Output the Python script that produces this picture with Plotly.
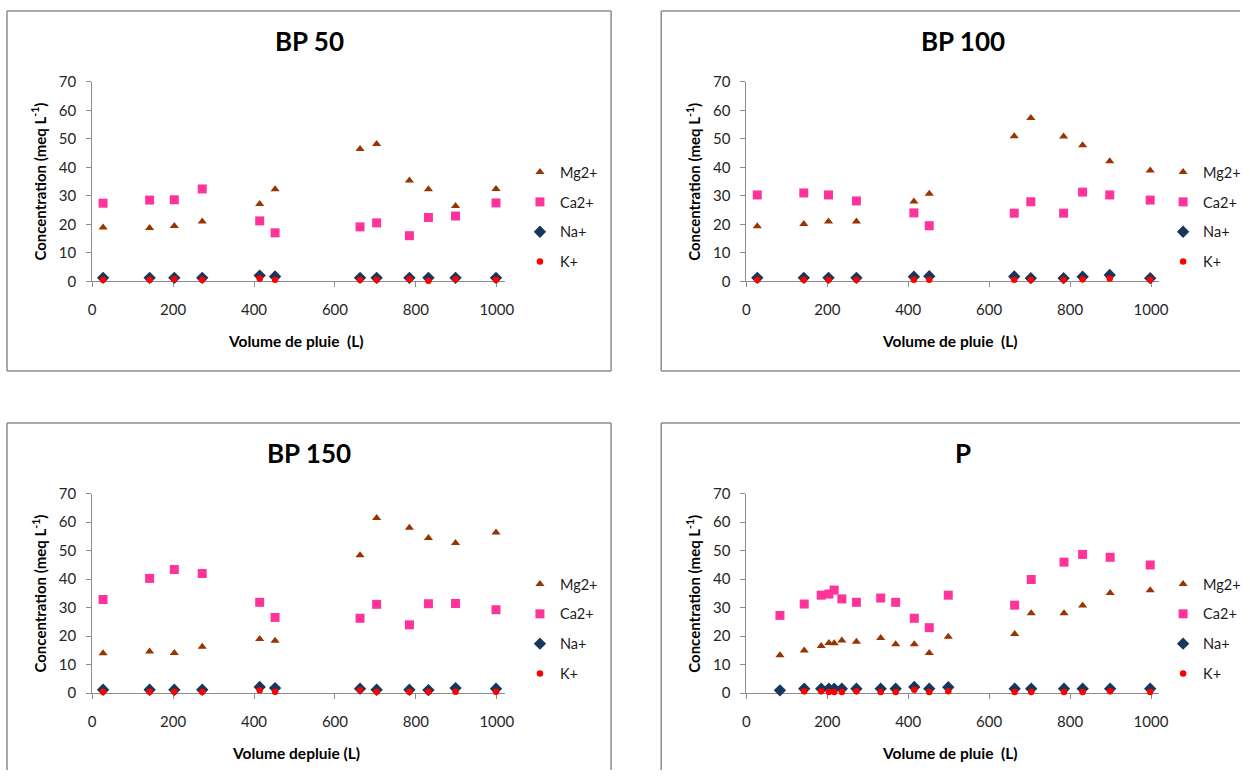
import plotly.graph_objects as go

# ---------------- data ----------------
X_BP = [27, 142, 203, 272, 414, 452, 662, 703, 784, 831, 898, 998]

BP50_MG = [18.9, 18.7, 19.4, 21.0, 27.1, 32.3, 46.4, 48.2, 35.4, 32.3, 26.4, 32.4]
BP50_CA = [27.4, 28.5, 28.6, 32.4, 21.2, 17.0, 19.1, 20.5, 16.0, 22.4, 22.9, 27.5]
BP50_NA = [1.2, 1.2, 1.2, 1.2, 2.0, 1.7, 1.2, 1.2, 1.2, 1.2, 1.2, 1.2]
BP50_K = [0.5, 0.5, 0.8, 0.5, 1.0, 0.5, 0.5, 0.5, 0.8, 0.2, 0.8, 0.5]

BP100_MG = [19.3, 20.1, 21.0, 21.0, 28.0, 30.7, 50.9, 57.3, 50.8, 47.7, 42.1, 38.9]
BP100_CA = [30.3, 31.0, 30.3, 28.2, 24.0, 19.5, 23.9, 27.9, 23.9, 31.3, 30.3, 28.5]
BP100_NA = [1.2, 1.2, 1.2, 1.2, 1.6, 1.8, 1.7, 1.1, 1.1, 1.6, 2.2, 1.1]
BP100_K = [0.5, 0.5, 0.5, 0.5, 0.5, 0.5, 0.5, 0.5, 0.5, 0.7, 1.0, 0.5]

BP150_MG = [14.0, 14.6, 14.1, 16.3, 19.0, 18.4, 48.4, 61.5, 58.1, 54.5, 52.7, 56.4]
BP150_CA = [32.9, 40.3, 43.4, 42.0, 31.9, 26.6, 26.3, 31.2, 24.0, 31.4, 31.5, 29.3]
BP150_NA = [1.2, 1.2, 1.2, 1.2, 2.2, 1.8, 1.6, 1.2, 1.2, 1.1, 1.8, 1.6]
BP150_K = [0.5, 0.5, 0.5, 0.5, 1.0, 0.5, 1.0, 0.5, 0.5, 0.5, 0.5, 0.5]

X_P = [83, 143, 185, 204, 217, 236, 272, 332, 369, 415, 452, 499, 663, 704, 785, 831, 899, 998]
P_MG = [13.3, 15.0, 16.6, 17.6, 17.5, 18.5, 18.1, 19.4, 17.2, 17.2, 14.1, 19.8, 20.8, 28.1, 28.1, 30.8, 35.2, 36.1]
P_CA = [27.3, 31.3, 34.4, 34.8, 36.2, 33.1, 31.9, 33.4, 31.9, 26.3, 23.0, 34.4, 30.9, 39.9, 46.0, 48.7, 47.7, 45.0]
P_NA = [1.0, 1.6, 1.6, 1.6, 1.6, 1.6, 1.6, 1.6, 1.6, 2.2, 1.6, 2.1, 1.6, 1.6, 1.6, 1.6, 1.6, 1.6]
P_K = [None, 0.7, 0.7, 0.4, 0.4, 0.4, 0.7, 0.4, 0.4, 1.2, 0.4, 0.7, 0.4, 0.4, 0.4, 0.4, 0.7, 0.4]

TITLES = ["BP 50", "BP 100", "BP 150", "P"]
XTITLES = ["Volume de pluie\u00a0 (L)", "Volume de pluie\u00a0 (L)",
           "Volume depluie (L)", "Volume de pluie\u00a0 (L)"]
YTITLE = "Concentration (meq L<sup>-1</sup>)"
SERIES_NAMES = ["Mg2+", "Ca2+", "Na+", "K+"]
X_TICKS = [0, 200, 400, 600, 800, 1000]

PANELS = [
    (X_BP, [BP50_MG, BP50_CA, BP50_NA, BP50_K]),
    (X_BP, [BP100_MG, BP100_CA, BP100_NA, BP100_K]),
    (X_BP, [BP150_MG, BP150_CA, BP150_NA, BP150_K]),
    (X_P, [P_MG, P_CA, P_NA, P_K]),
]

# ---------------- layout helpers ----------------
W, H = 1250, 778
FONT = "Lato, 'Open Sans', sans-serif"
STYLES = [
    dict(symbol="triangle-up", color="#993300", size=8),
    dict(symbol="square", color="#FF3399", size=9),
    dict(symbol="diamond", color="#17375E", size=9.5),
    dict(symbol="circle", color="#FF0000", size=6.5),
]

# panel geometry in target-picture pixels
# (box x0, x1, y0, y1, plot x0, plot x1, plot ytop, plot ybottom, legend x)
GEOM = [
    (8, 611, 9, 370, 93, 505, 80, 280, 520),
    (661, 1264, 9, 370, 746, 1158, 80, 280, 1162),
    (8, 611, 422, 790, 93, 505, 493, 693, 520),
    (661, 1264, 422, 790, 746, 1158, 493, 693, 1162),
]

# the photographed page is shown slightly reduced inside a thin white frame;
# map target-picture pixels to page pixels
SX, OX = 0.987, 5.0
SY, OY = 0.9794, 8.0


def fx(p):
    return min(max(((p - OX) / SX) / W, 0.0), 1.0)


def fy(p):
    return min(max(1 - ((p - OY) / SY) / H, 0.0), 1.0)


fig = go.Figure()
shapes = []
annotations = []
BOX_LINE = dict(color="#8C8C8C", width=1.5)


def seg(xa, ya, xb, yb):
    shapes.append(dict(type="line", xref="paper", yref="paper",
                       x0=fx(xa), y0=fy(ya), x1=fx(xb), y1=fy(yb),
                       line=BOX_LINE, layer="below"))


for i, ((xs, series), g) in enumerate(zip(PANELS, GEOM)):
    bx0, bx1, by0, by1, px0, px1, pyt, pyb, lx = g
    ax = "" if i == 0 else str(i + 1)
    leg = "legend" if i == 0 else f"legend{i + 1}"
    for name, ys, st in zip(SERIES_NAMES, series, STYLES):
        fig.add_trace(go.Scatter(
            x=xs, y=ys, mode="markers", name=name,
            marker=dict(symbol=st["symbol"], color=st["color"], size=st["size"],
                        line=dict(width=0)),
            xaxis="x" + ax, yaxis="y" + ax,
            legend=leg, legendgroup=f"{leg}-{name}",
            cliponaxis=False,
        ))

    common = dict(showgrid=False, zeroline=False, showline=True,
                  linecolor="#8C8C8C", linewidth=1, ticks="outside",
                  ticklen=5, tickcolor="#8C8C8C",
                  tickfont=dict(family=FONT, size=15, color="#262626"),
                  layer="below traces")
    fig.update_layout(**{
        "xaxis" + ax: dict(common, domain=[fx(px0), fx(px1)], range=[0, 1020],
                           tickvals=X_TICKS, anchor="y" + ax,
                           ticklabelstandoff=10),
        "yaxis" + ax: dict(common, domain=[fy(pyb), fy(pyt)], range=[0, 70],
                           dtick=10, anchor="x" + ax, ticklabelstandoff=7),
        leg: dict(x=fx(lx), y=fy(pyt + 74.5), xanchor="left",
                  yanchor="top", tracegroupgap=8, bgcolor="rgba(0,0,0,0)",
                  font=dict(family=FONT, size=14.5, color="#1a1a1a"),
                  itemwidth=30),
    })

    # panel border, clipped to the page
    seg(bx0, by0, bx1, by0)      # top
    seg(bx0, by0, bx0, by1)      # left
    if bx1 < W:
        seg(bx1, by0, bx1, by1)  # right
    if by1 < H:
        seg(bx0, by1, bx1, by1)  # bottom

    cx = (bx0 + bx1) / 2
    annotations.append(dict(text=f"<b>{TITLES[i]}</b>", xref="paper", yref="paper",
                            x=fx(cx), y=fy(by0 + 30), showarrow=False,
                            xanchor="center", yanchor="middle",
                            font=dict(family=FONT, size=26, color="#000")))
    annotations.append(dict(text=f"<b>{XTITLES[i]}</b>", xref="paper", yref="paper",
                            x=fx(px0 + 203), y=fy(pyb + 60), showarrow=False,
                            xanchor="center", yanchor="middle",
                            font=dict(family=FONT, size=15.5, color="#000")))
    annotations.append(dict(text=f"<b>{YTITLE}</b>", xref="paper", yref="paper",
                            x=fx(px0 - 53), y=fy((pyt + pyb) / 2), showarrow=False,
                            xanchor="center", yanchor="middle", textangle=-90,
                            font=dict(family=FONT, size=15, color="#000")))

fig.update_layout(
    width=W, height=H,
    margin=dict(l=0, r=0, t=0, b=0),
    paper_bgcolor="white", plot_bgcolor="white",
    shapes=shapes, annotations=annotations,
    showlegend=True,
)

fig.write_html(
    "out.html",
    config={"displayModeBar": False},
    post_script="document.body.style.margin='0';document.body.style.padding='0';"
                "document.documentElement.style.overflow='hidden';",
)
